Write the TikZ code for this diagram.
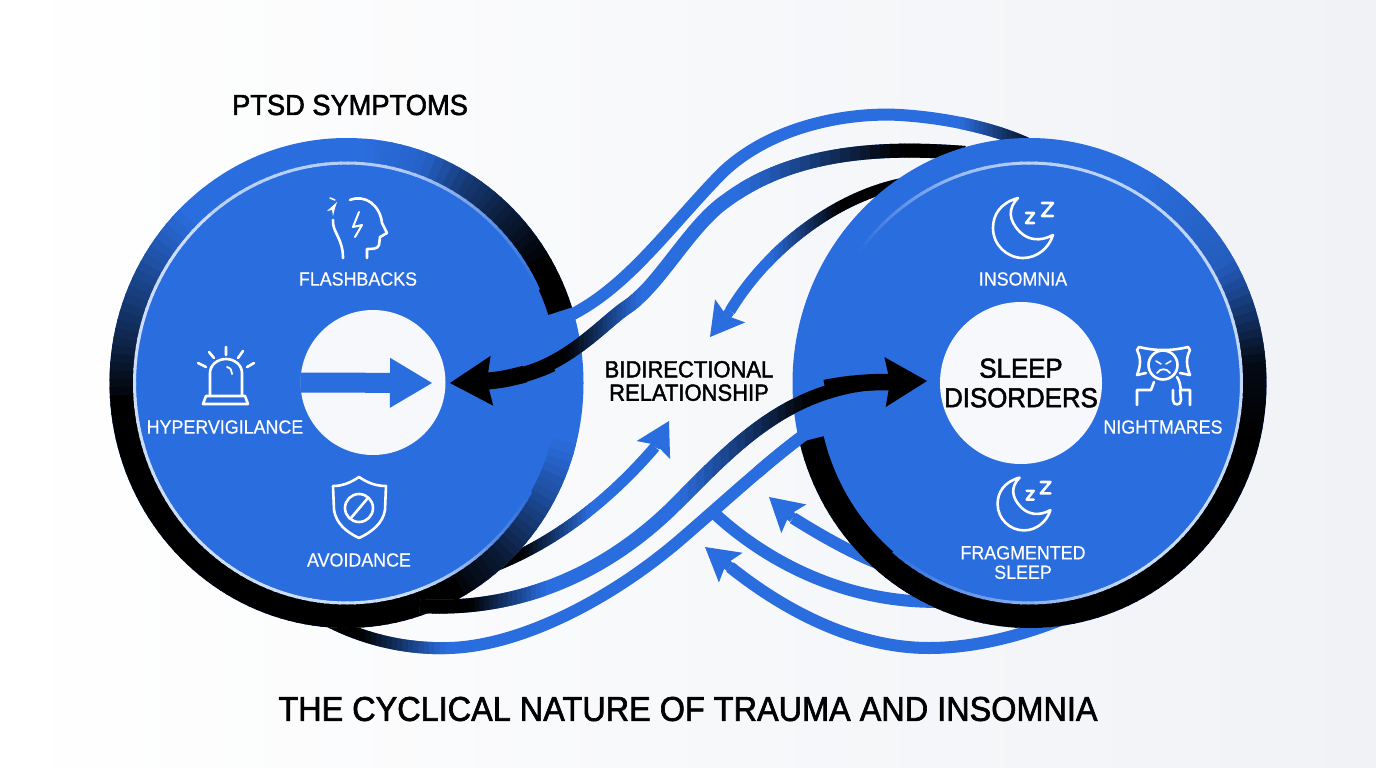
\documentclass[tikz,border=0pt]{standalone}
\usepackage{fontspec}
\setmainfont[FakeStretch=0.94,FakeBold=0.4]{Liberation Sans}
\newfontfamily\ptsdheavy[FakeStretch=0.94,FakeBold=1.8]{Liberation Sans}
\usetikzlibrary{arrows.meta}
\definecolor{discblue}{HTML}{2A6DDE}
\definecolor{ringlight}{HTML}{CBDDFB}
\definecolor{hubwhite}{HTML}{F7F8FC}
\definecolor{paperend}{HTML}{F0F2F6}
% one disc: outer rim by angle ranges, then inner face and its thin light rim
\newcommand{\discrim}[4]{%
  \fill[discblue] (#1,#2) ellipse [x radius=237pt, y radius=245pt];
  \foreach \aa/\ab/\ka/\kb in {#3}{
    \pgfmathtruncatemacro\nn{max(1,(\ab-\aa)/2)}
    \foreach \i in {1,...,\nn}{
      \pgfmathsetmacro\ts{\aa+(\ab-\aa)*(\i-1)/\nn}
      \pgfmathsetmacro\te{\aa+(\ab-\aa)*\i/\nn+.5}
      \pgfmathtruncatemacro\kk{\ka+(\kb-\ka)*(\i-.5)/\nn}
      \fill[discblue!\kk!black]
        ({#1+237*cos(\ts)},{#2-245*sin(\ts)}) -- ({#1+237*cos(\te)},{#2-245*sin(\te)})
        -- ({#1+211*cos(\te)},{#2-219*sin(\te)}) -- ({#1+211*cos(\ts)},{#2-219*sin(\ts)}) -- cycle;
    }
  }
  \fill[discblue] (#1,#2) ellipse [x radius=212pt, y radius=220pt];
  \foreach \aa/\ab/\ka/\kb in {#4}{
    \pgfmathtruncatemacro\nn{max(1,(\ab-\aa)/2)}
    \foreach \i in {1,...,\nn}{
      \pgfmathsetmacro\ts{\aa+(\ab-\aa)*(\i-1)/\nn}
      \pgfmathsetmacro\te{\aa+(\ab-\aa)*\i/\nn+.5}
      \pgfmathtruncatemacro\kk{\ka+(\kb-\ka)*(\i-.5)/\nn}
      \draw[line width=3pt, ringlight!\kk!discblue]
        ({#1+212*cos(\ts)},{#2-220*sin(\ts)}) -- ({#1+212*cos(\te)},{#2-220*sin(\te)});
    }
  }
}
% part of a flow, coloured from blue to black along x
\newcommand{\flowpart}[6]{%
  \foreach \i in {1,...,16}{
    \pgfmathsetmacro\xs{#3+(#4-#3)*(\i-1)/16}
    \pgfmathsetmacro\xe{#3+(#4-#3)*\i/16+.5}
    \pgfmathtruncatemacro\kk{#5+(#6-#5)*(\i-.5)/16}
    \begin{scope}
      \clip (\xs,0) rectangle (\xe,768);
      \draw[line width=#2pt, discblue!\kk!black] #1;
    \end{scope}
  }
}
\begin{document}
\begin{tikzpicture}[
  x=1pt, y=-1pt,
  ptsdflow/.style = {line width=12pt, discblue},
  ptsdhead/.style = {line width=10pt, discblue, -{Stealth[length=33pt,width=38pt,inset=6pt,line width=0pt]}},
  ptsdbig/.style = {line width=16pt, black, -{Stealth[length=42pt,width=50pt,inset=5pt,line width=0pt]}},
  ptsdicon/.style = {white, line width=2.6pt, line join=round, line cap=round},
  ptsdlbl/.style = {white, font=\fontsize{19}{20}\selectfont, inner sep=0pt, align=center},
  ptsdhub/.style = {circle, fill=hubwhite, inner sep=0pt},
  moonzz/.pic = {
    \draw[ptsdicon] (-5,-30) .. controls (-23,-25) and (-30,-13) .. (-30,0)
      .. controls (-30,17) and (-16,30) .. (0,30)
      .. controls (14,30) and (26,20) .. (30,7)
      .. controls (17,14) and (5,12) .. (-3,4)
      .. controls (-15,-8) and (-15,-20) .. (-5,-30) -- cycle;
    \draw[ptsdicon] (3,-15) -- (11,-15) -- (3,-5) -- (11,-5);
    \draw[ptsdicon] (19,-25) -- (30,-25) -- (19,-12) -- (30,-12);
  }
]
  % background
  \useasboundingbox (0,0) rectangle (1376,768);
  \shade[shading angle=135, left color=white, right color=paperend] (0,0) rectangle (1376,768);

  % end points of the flows
  \coordinate (flowAa) at (565,318);
  \coordinate (flowAb) at (1032,146);
  \coordinate (flowBa) at (965,153);
  \coordinate (flowBb) at (488,381);
  \coordinate (flowCa) at (905,183);
  \coordinate (flowCb) at (730,311);
  \coordinate (flowDa) at (420,606);
  \coordinate (flowDb) at (888,382);
  \coordinate (flowEa) at (310,610);
  \coordinate (flowEb) at (825,420);
  \coordinate (flowFa) at (490,568);
  \coordinate (flowFb) at (655,447);
  \coordinate (flowGa) at (714,513);
  \coordinate (flowGb) at (970,600);
  \coordinate (flowHa) at (793,518);
  \coordinate (flowHb) at (885,566);
  \coordinate (flowIa) at (730,567);
  \coordinate (flowIb) at (1080,612);
  \def\flowA{(flowAa) .. controls (625,290) and (665,232) .. (720,175) .. controls (770,125) and (850,112) .. (900,115) .. controls (950,118) and (1000,130) .. (flowAb)}
  \def\flowB{(flowBa) .. controls (900,148) and (800,146) .. (727,200) .. controls (690,225) and (660,285) .. (627,307) .. controls (600,325) and (560,376) .. (flowBb)}
  \def\flowC{(flowCa) .. controls (840,195) and (770,245) .. (flowCb)}
  \def\flowD{(flowDa) .. controls (520,612) and (610,572) .. (680,500) .. controls (735,445) and (790,385) .. (flowDb)}
  \def\flowE{(flowEa) .. controls (340,630) and (390,650) .. (449,648) .. controls (520,646) and (610,600) .. (680,540) .. controls (730,497) and (780,450) .. (flowEb)}
  \def\flowF{(flowFa) .. controls (550,545) and (605,505) .. (flowFb)}
  \def\flowG{(flowGa) .. controls (770,565) and (860,612) .. (flowGb)}
  \def\flowH{(flowHa) .. controls (820,535) and (855,555) .. (flowHb)}
  \def\flowI{(flowIa) .. controls (790,615) and (860,648) .. (929,648) .. controls (970,648) and (1020,638) .. (flowIb)}

  % flows that pass under the left disc
  \draw[ptsdflow, line width=11pt] \flowF;
  \flowpart{\flowF}{11}{485}{520}{0}{0}
  \flowpart{\flowF}{11}{520}{590}{0}{100}
  \draw[ptsdflow] \flowE;
  \flowpart{\flowE}{12}{300}{360}{0}{0}
  \flowpart{\flowE}{12}{360}{445}{0}{100}
  \draw[ptsdhead] (flowFb) -- (669,421);

  % left disc
  \discrim{346.5}{383}{18/30/0/0,30/45/0/25,45/59/25/55,59/70/55/90,70/85/90/100,135/148/100/75,148/167/75/40,167/183/40/5,183/300/0/0,300/313/5/25,313/331/25/70,331/345/70/100}{25/45/0/30,45/60/30/60,60/75/60/85,75/130/85/90,130/290/100/100,290/305/100/60,305/315/60/25,315/330/25/0}

  % flows over the left disc and under the right one
  \draw[ptsdflow] \flowA;
  \flowpart{\flowA}{12}{960}{1035}{100}{10}
  \draw[ptsdflow, line width=14pt] \flowB;
  \flowpart{\flowB}{14}{480}{565}{0}{0}
  \flowpart{\flowB}{14}{565}{640}{0}{100}
  \flowpart{\flowB}{14}{740}{900}{100}{0}
  \flowpart{\flowB}{14}{900}{970}{0}{0}
  \draw[black, line width=17pt] (flowBb) .. controls (500,380) and (510,378) .. (525,374);
  \draw[black, line width=15.5pt] (flowBb) .. controls (510,380) and (535,372) .. (552,364);
  \draw[ptsdflow, line width=11pt] \flowC;
  \flowpart{\flowC}{11}{770}{840}{100}{0}
  \flowpart{\flowC}{11}{840}{910}{0}{0}
  \draw[ptsdflow] \flowG;
  \draw[ptsdflow] \flowH;
  \draw[ptsdflow] \flowI;
  \draw[ptsdhead] (flowCb) -- (710,337);
  \draw[ptsdhead] (flowHa) -- (769,497);
  \draw[ptsdhead] (flowIa) -- (705,547);

  % right disc
  \discrim{1029.5}{383}{194/345/0/0,345/365/0/10,5/13/10/35,13/30/35/85,30/60/85/100}{110/143/70/0,90/110/90/70,-60/90/100/90,247/300/30/100,230/247/0/30}
  \draw[ptsdflow] (757,473) .. controls (775,457) and (800,437) .. (flowEb);

  % flow over the right disc
  \draw[ptsdflow, line width=14pt] \flowD;
  \flowpart{\flowD}{14}{415}{470}{0}{0}
  \flowpart{\flowD}{14}{470}{545}{0}{100}
  \flowpart{\flowD}{14}{680}{810}{100}{0}
  \flowpart{\flowD}{14}{810}{892}{0}{0}
  \draw[black, line width=16.5pt] (825,388) .. controls (845,384) and (865,382) .. (flowDb);

  % hubs
  \node[ptsdhub, minimum size=145pt] (hubL) at (373,382.5) {};
  \node[ptsdhub, minimum size=162pt] (hubR) at (1021,383) {};
  \node[inner sep=0pt, align=center, font=\ptsdheavy\fontsize{27.5}{29.5}\selectfont] (lblSleep) at (hubR) {SLEEP\\DISORDERS};
  \coordinate (hubLtip) at (432,383);
  \draw[discblue, line width=20pt, -{Triangle[length=42pt,width=50pt,line width=0pt]}] (hubL.west) -- (hubLtip);

  % big arrows
  \draw[ptsdbig] (flowBb) -- (450,383);
  \draw[ptsdbig] (flowDb) -- (927,381);

  % labels
  \node[ptsdlbl] (lblFlash) at (358,279) {FLASHBACKS};
  \node[ptsdlbl] (lblHyper) at (225,427) {HYPERVIGILANCE};
  \node[ptsdlbl] (lblAvoid) at (359,560) {AVOIDANCE};
  \node[ptsdlbl] (lblInsom) at (1023,279) {INSOMNIA};
  \node[ptsdlbl] (lblNight) at (1163,427) {NIGHTMARES};
  \node[ptsdlbl, font=\fontsize{19}{19.5}\selectfont] (lblFrag) at (1023,562.5) {FRAGMENTED\\SLEEP};
  \node[inner sep=0pt, align=center, font=\ptsdheavy\fontsize{23.4}{23.4}\selectfont] (lblBi) at (689,381) {BIDIRECTIONAL\\RELATIONSHIP};
  \node[inner sep=0pt, font=\ptsdheavy\fontsize{29}{29}\selectfont] (lblPtsd) at (350,105) {PTSD SYMPTOMS};
  \node[inner sep=0pt, font=\ptsdheavy\fontsize{34.5}{34.5}\selectfont] (lblCycle) at (688,709) {THE CYCLICAL NATURE OF TRAUMA AND INSOMNIA};

  % icon: head
  \draw[ptsdicon] (350,200) .. controls (365,194) and (380,205) .. (382,223) -- (387,233) -- (380,237) -- (379,245)
    .. controls (378,249) and (372,249) .. (367,249) -- (367,258);
  \draw[ptsdicon] (333,220) .. controls (332,232) and (343,238) .. (343,258);
  \draw[ptsdicon, line width=2pt] (359,212) -- (353,227) -- (362,225) -- (355,237);
  \fill[white] (337,202) -- (327,211) -- (332,210) -- (333,216) -- (335,208) -- cycle;
  \draw[ptsdicon, line width=1.5pt] (330,198) -- (335,200);

  % icon: alarm
  \draw[ptsdicon] (210,395) -- (210,373) arc[start angle=180, end angle=0, x radius=16pt, y radius=14pt] -- (242,395);
  \draw[ptsdicon] (206,396) -- (245,396) -- (248,404) -- (203,404) -- cycle;
  \draw[ptsdicon, line width=1.8pt] (227,367) .. controls (231,368) and (232,371) .. (232,374);
  \draw[ptsdicon] (226,347) -- (226,355) (209,352) -- (214,358) (243,351) -- (238,358) (198,363) -- (206,367) (254,363) -- (247,367);

  % icon: shield
  \draw[ptsdicon] (359,477) .. controls (350,483) and (342,486) .. (333,486) -- (334,510)
    .. controls (336,523) and (346,532) .. (359,538) .. controls (372,532) and (383,523) .. (385,510) -- (386,486)
    .. controls (376,486) and (368,483) .. (359,477) -- cycle;
  \draw[ptsdicon] (359,508) circle (14pt);
  \draw[ptsdicon] (351,518) -- (367,499);

  % icons: moons
  \pic (moonA) at (1023,228) {moonzz};
  \pic[scale=.88] (moonB) at (1024,504) {moonzz};

  % icon: sleeper
  \draw[ptsdicon] (1146,373) -- (1137,375) .. controls (1141,365) and (1141,358) .. (1137,350) -- (1139,347)
    .. controls (1155,351) and (1172,351) .. (1188,347) -- (1190,350) .. controls (1186,358) and (1186,365) .. (1190,375) -- (1180,373);
  \draw[ptsdicon] (1163,365) circle (14.5pt);
  \draw[ptsdicon, line width=1.6pt] (1156,361) -- (1161,364) (1171,361) -- (1166,364);
  \draw[ptsdicon, line width=1.8pt] (1157,373) .. controls (1160,368) and (1167,368) .. (1170,373);
  \draw[ptsdicon] (1137,405) -- (1137,390) -- (1151,390) -- (1154,382);
  \draw[ptsdicon] (1177,377) .. controls (1180,381) and (1180,386) .. (1181,390) -- (1190,390) -- (1190,405);
  \draw[ptsdicon] (1173,390) -- (1173,400) .. controls (1173,406) and (1181,406) .. (1181,400) -- (1180,390);
\end{tikzpicture}
\end{document}
